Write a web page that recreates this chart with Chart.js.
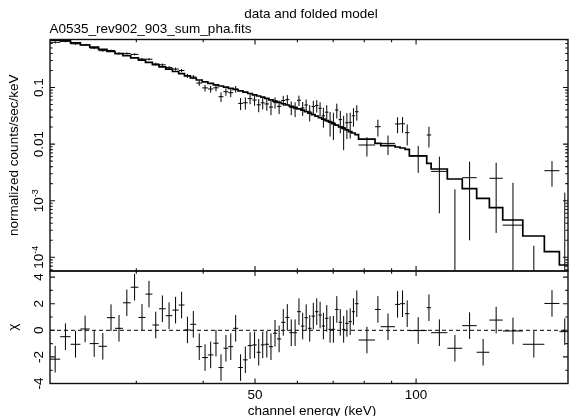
<!DOCTYPE html>
<html>
<head>
<meta charset="utf-8">
<script src="https://cdn.jsdelivr.net/npm/chart.js@4.4.1/dist/chart.umd.min.js"></script>
<style>
  html, body { margin: 0; padding: 0; background: #fff; }
  canvas { display: block; }
</style>
</head>
<body>
<canvas id="spec" width="570" height="416"></canvas>
<script>
// Channel bin edges in keV (76 grouped channels)
const binEdges = [20.69, 21.62, 22.60, 23.58, 24.55, 25.50, 26.44, 27.37, 28.32, 29.28,
  30.27, 31.21, 32.15, 33.08, 34.04, 35.04, 36.00, 36.91, 37.85, 38.83,
  39.83, 40.82, 41.80, 42.73, 43.65, 44.58, 45.51, 46.50, 47.47, 48.45,
  49.44, 50.37, 51.24, 52.13, 53.08, 54.03, 54.96, 55.97, 56.96, 57.95,
  58.93, 59.90, 60.92, 61.85, 62.78, 63.77, 64.74, 65.69, 66.63, 67.59,
  68.58, 69.56, 70.56, 71.63, 72.72, 73.72, 74.78, 75.85, 76.90, 78.07,
  83.81, 85.89, 91.35, 93.33, 95.36, 97.15, 104.7, 106.7, 114.4, 122.0,
  129.8, 137.1, 145.2, 158.3, 173.7, 185.3, 194.0];

// Measured count rate per bin (counts/s/keV)
const countRate = [0.629, 0.657, 0.591, 0.566, 0.495, 0.448, 0.450, 0.400, 0.400, 0.385,
  0.318, 0.316, 0.260, 0.252, 0.225, 0.212, 0.200, 0.161, 0.153, 0.120,
  0.0984, 0.0942, 0.0988, 0.0688, 0.0843, 0.0808, 0.0941, 0.0524, 0.0538, 0.0636,
  0.0601, 0.0495, 0.0537, 0.0512, 0.0451, 0.0548, 0.0464, 0.0590, 0.0611, 0.0445,
  0.0423, 0.0595, 0.0435, 0.0491, 0.0371, 0.0461, 0.0480, 0.0430, 0.0316, 0.0367,
  0.0253, 0.0238, 0.0401, 0.0271, 0.0197, 0.0238, 0.0242, 0.0317, 0.0373, 0.00964,
  0.0203, 0.0103, 0.0227, 0.0229, 0.0159, 0.0062, 0.0145, 0.0033, -0.00077, 0.00255,
  -0.0017, 0.00249, 0.00037, -0.0013, 0.00339, -0.00007];

// 1-sigma uncertainty of each rate
const countErr = [0.028, 0.026, 0.024, 0.022, 0.020, 0.019, 0.018, 0.017, 0.017, 0.016,
  0.015, 0.014, 0.014, 0.013, 0.013, 0.013, 0.013, 0.013, 0.013, 0.013,
  0.0135, 0.0130, 0.0132, 0.0134, 0.0128, 0.0130, 0.0127, 0.0125, 0.0131, 0.0128,
  0.0126, 0.0129, 0.0127, 0.0124, 0.0126, 0.0123, 0.0125, 0.0122, 0.0124, 0.0121,
  0.0123, 0.0125, 0.0120, 0.0122, 0.0119, 0.0121, 0.0120, 0.0118, 0.0121, 0.0119,
  0.0117, 0.0120, 0.0118, 0.0116, 0.0119, 0.0115, 0.0117, 0.0114, 0.0113, 0.0036,
  0.0067, 0.0039, 0.0071, 0.0071, 0.0064, 0.0031, 0.0058, 0.0027, 0.00236, 0.00235,
  0.0017, 0.00222, 0.00171, 0.00146, 0.00162, 0.00146];

// Folded model rate per bin
const modelRate = [0.690, 0.669, 0.616, 0.564, 0.515, 0.471, 0.4325, 0.397, 0.3646, 0.3334,
  0.3036, 0.2777, 0.2539, 0.2312, 0.2105, 0.1917, 0.1753, 0.1609, 0.1472, 0.1357,
  0.1261, 0.1182, 0.1116, 0.1063, 0.1016, 0.0968, 0.0922, 0.0874, 0.0829, 0.0783,
  0.0740, 0.0708, 0.0677, 0.0642, 0.0606, 0.0575, 0.0545, 0.0517, 0.0491, 0.0467,
  0.0445, 0.0420, 0.0397, 0.0375, 0.0353, 0.0332, 0.0312, 0.0294, 0.0277, 0.0260,
  0.0245, 0.0230, 0.0216, 0.0201, 0.0189, 0.0178, 0.0166, 0.0157, 0.0147, 0.0122,
  0.0103, 0.00937, 0.00889, 0.00853, 0.00809, 0.00621, 0.00458, 0.00363, 0.00242, 0.00163,
  0.00110, 0.000752, 0.000456, 0.000238, 0.000126, 0.0000731];

// Residuals (data - model) / error
const chiResid = [-2.17, -0.48, -1.05, 0.1, -1.0, -1.2, 0.95, 0.15, 2.07, 3.24,
  0.97, 2.72, 0.4, 1.62, 1.1, 1.52, 1.9, 0.03, 0.45, -1.23,
  -2.05, -1.85, -0.97, -2.8, -1.35, -1.23, 0.15, -2.8, -2.22, -1.15,
  -1.1, -1.65, -1.1, -1.05, -1.23, -0.22, -0.65, 0.6, 0.97, -0.18,
  -0.18, 1.4, 0.32, 0.95, 0.15, 1.07, 1.4, 1.15, 0.32, 0.9,
  0.07, 0.07, 1.57, 0.6, 0.07, 0.52, 0.65, 1.4, 2.0, -0.73,
  1.57, 0.27, 1.95, 2.0, 1.25, -0.02, 1.7, -0.18, -1.35, 0.35,
  -1.65, 0.77, -0.05, -1.05, 2.02, -0.1];

// Axis ranges and ticks
const xMin = 20.69, xMax = 192.3;
const yMin = 5.73e-5, yMax = 0.705;
const chiMin = -4, chiMax = 4.46;
const xMajorTicks = [50, 100];
const xMinorTicks = [30, 40, 60, 70, 80, 90];
const yMajorTicks = [1e-4, 1e-3, 0.01, 0.1];
const yTickLabels = ['10^-4', '10^-3', '0.01', '0.1'];
const chiMajorTicks = [-4, -2, 0, 2, 4];
const chiMinorTicks = [-3, -1, 1, 3];
const chiTickLabels = ['-4', '-2', '0', '2', '4'];

const titleText = 'data and folded model';
const fileText = 'A0535_rev902_903_sum_pha.fits';
const xTitle = 'channel energy (keV)';
const yTitle = 'normalized counts/sec/keV';
const chiTitle = 'χ';

const FONT = '"Liberation Sans", Arial, Helvetica, sans-serif';
const FS = 13.5;

// Build the step model and the cross data from the arrays above
const modelSteps = [];
modelRate.forEach((m, i) => {
  modelSteps.push({ x: binEdges[i], y: m }, { x: binEdges[i + 1], y: m });
});
const mid = i => (binEdges[i] + binEdges[i + 1]) / 2;
const dataPts = countRate.map((v, i) => ({ x: mid(i), y: v, xlo: binEdges[i], xhi: binEdges[i + 1], err: countErr[i] }));
const residPts = chiResid.map((v, i) => ({ x: mid(i), y: v, xlo: binEdges[i], xhi: binEdges[i + 1], err: 1 }));

// Draws the XSPEC-style error crosses for datasets flagged with `crosses`
const errorCrosses = {
  id: 'errorCrosses',
  afterDatasetsDraw(chart) {
    const ctx = chart.ctx;
    const xs = chart.scales.x;
    chart.data.datasets.forEach(ds => {
      if (!ds.crosses) return;
      const ys = chart.scales[ds.yAxisID];
      const isLog = ys.type === 'logarithmic';
      const toY = v => (isLog && v <= 0) ? ys.bottom + 2 : ys.getPixelForValue(v);
      ctx.save();
      ctx.beginPath();
      ctx.rect(xs.left, ys.top, xs.right - xs.left, ys.bottom - ys.top);
      ctx.clip();
      ctx.strokeStyle = '#000';
      ctx.lineWidth = 1;
      ctx.beginPath();
      ds.data.forEach(p => {
        const xl = xs.getPixelForValue(p.xlo), xh = xs.getPixelForValue(p.xhi), xc = xs.getPixelForValue(p.x);
        if (!(isLog && p.y <= 0)) {
          const yc = ys.getPixelForValue(p.y);
          ctx.moveTo(xl, yc); ctx.lineTo(xh, yc);
        }
        ctx.moveTo(xc, toY(p.y - p.err)); ctx.lineTo(xc, toY(p.y + p.err));
      });
      ctx.stroke();
      ctx.restore();
    });
  }
};

// Rotated text helper: baseline at screen x = bx, centred on screen y = cy
function vText(ctx, text, bx, cy, size) {
  ctx.save();
  ctx.translate(bx, cy);
  ctx.rotate(-Math.PI / 2);
  ctx.font = size + 'px ' + FONT;
  ctx.textAlign = 'center';
  ctx.textBaseline = 'alphabetic';
  ctx.fillText(text, 0, 0);
  ctx.restore();
}
// Rotated label with optional exponent written as "base^exp"
function vLabel(ctx, label, bx, cy) {
  const parts = label.split('^');
  if (parts.length === 1) { vText(ctx, label, bx, cy, FS); return; }
  const expSize = 9;
  ctx.save();
  ctx.font = FS + 'px ' + FONT;
  const w1 = ctx.measureText(parts[0]).width;
  ctx.font = expSize + 'px ' + FONT;
  const w2 = ctx.measureText(parts[1]).width;
  ctx.translate(bx, cy);
  ctx.rotate(-Math.PI / 2);
  ctx.textAlign = 'left';
  ctx.textBaseline = 'alphabetic';
  const u0 = -(w1 + w2) / 2;
  ctx.font = FS + 'px ' + FONT;
  ctx.fillText(parts[0], u0, 0);
  ctx.font = expSize + 'px ' + FONT;
  ctx.fillText(parts[1], u0 + w1, -5.5);
  ctx.restore();
}

// Panel frames, inward ticks, rotated tick labels and titles
const axesFrame = {
  id: 'axesFrame',
  afterDraw(chart) {
    const ctx = chart.ctx;
    const xs = chart.scales.x, ys = chart.scales.y, yr = chart.scales.yr;
    const L = xs.left, R = xs.right;
    ctx.save();
    ctx.strokeStyle = '#111';
    ctx.lineWidth = 1.4;
    [ys, yr].forEach(s => ctx.strokeRect(L, s.top, R - L, s.bottom - s.top));

    ctx.lineWidth = 1.1;
    ctx.beginPath();
    const seg = (x1, y1, x2, y2) => { ctx.moveTo(x1, y1); ctx.lineTo(x2, y2); };
    const MAJ = 5, MIN = 2.7;
    [ys, yr].forEach(s => {
      xMajorTicks.forEach(v => { const p = xs.getPixelForValue(v); seg(p, s.top, p, s.top + MAJ); seg(p, s.bottom, p, s.bottom - MAJ); });
      xMinorTicks.forEach(v => { const p = xs.getPixelForValue(v); seg(p, s.top, p, s.top + MIN); seg(p, s.bottom, p, s.bottom - MIN); });
    });
    yMajorTicks.forEach(v => { const p = ys.getPixelForValue(v); seg(L, p, L + MAJ, p); seg(R, p, R - MAJ, p); });
    for (let d = Math.floor(Math.log10(yMin)); d <= Math.ceil(Math.log10(yMax)); d++) {
      for (let k = 2; k <= 9; k++) {
        const v = k * Math.pow(10, d);
        if (v < yMin || v > yMax) continue;
        const p = ys.getPixelForValue(v);
        seg(L, p, L + MIN, p); seg(R, p, R - MIN, p);
      }
    }
    chiMajorTicks.forEach(v => { const p = yr.getPixelForValue(v); seg(L, p, L + MAJ, p); seg(R, p, R - MAJ, p); });
    chiMinorTicks.forEach(v => { const p = yr.getPixelForValue(v); seg(L, p, L + MIN, p); seg(R, p, R - MIN, p); });
    ctx.stroke();

    ctx.fillStyle = '#000';
    yMajorTicks.forEach((v, i) => vLabel(ctx, yTickLabels[i], 43.3, ys.getPixelForValue(v)));
    chiMajorTicks.forEach((v, i) => vLabel(ctx, chiTickLabels[i], 43.3, yr.getPixelForValue(v)));

    vText(ctx, yTitle, 18.3, (ys.top + ys.bottom) / 2, FS);
    vText(ctx, chiTitle, 16.8, (yr.top + yr.bottom) / 2, FS);

    ctx.font = FS + 'px ' + FONT;
    ctx.textBaseline = 'alphabetic';
    ctx.textAlign = 'center';
    ctx.fillText(titleText, (L + R) / 2 + 2, 18);
    ctx.fillText(xTitle, (L + R) / 2 + 3, 414.5);
    ctx.textAlign = 'left';
    ctx.fillText(fileText, 49.5, 33);
    ctx.restore();
  }
};

new Chart(document.getElementById('spec'), {
  type: 'scatter',
  data: {
    datasets: [
      { data: modelSteps, yAxisID: 'y', showLine: true, borderColor: '#000', borderWidth: 1.7,
        pointRadius: 0, tension: 0, clip: 0 },
      { data: dataPts, yAxisID: 'y', pointRadius: 0, crosses: true },
      { data: [{ x: xMin, y: 0 }, { x: xMax, y: 0 }], yAxisID: 'yr', showLine: true,
        borderColor: '#000', borderWidth: 1, borderDash: [4, 3], pointRadius: 0 },
      { data: residPts, yAxisID: 'yr', pointRadius: 0, crosses: true }
    ]
  },
  options: {
    responsive: false,
    animation: false,
    events: [],
    layout: { padding: { left: 0, right: 2, top: 39.5, bottom: 0 } },
    plugins: { legend: { display: false }, tooltip: { enabled: false }, title: { display: false } },
    scales: {
      x: {
        type: 'logarithmic', position: 'bottom', min: xMin, max: xMax, bounds: 'data',
        afterBuildTicks: s => { s.ticks = xMajorTicks.map(v => ({ value: v })); },
        ticks: { callback: v => String(v), color: '#000', font: { family: FONT, size: FS },
                 padding: 4, maxRotation: 0, minRotation: 0, autoSkip: false },
        grid: { display: false, drawTicks: false },
        border: { display: false },
        afterFit: s => { s.height = 32.5; }
      },
      y: {
        type: 'logarithmic', position: 'left', min: yMin, max: yMax, bounds: 'data',
        stack: 'panels', stackWeight: 231.5, weight: 2,
        ticks: { display: false }, grid: { display: false, drawTicks: false }, border: { display: false },
        afterFit: s => { s.width = 50; }
      },
      yr: {
        type: 'linear', position: 'left', min: chiMin, max: chiMax, bounds: 'data',
        stack: 'panels', stackWeight: 112.5, weight: 1,
        ticks: { display: false }, grid: { display: false, drawTicks: false }, border: { display: false },
        afterFit: s => { s.width = 50; }
      }
    }
  },
  plugins: [errorCrosses, axesFrame]
});
</script>
</body>
</html>
